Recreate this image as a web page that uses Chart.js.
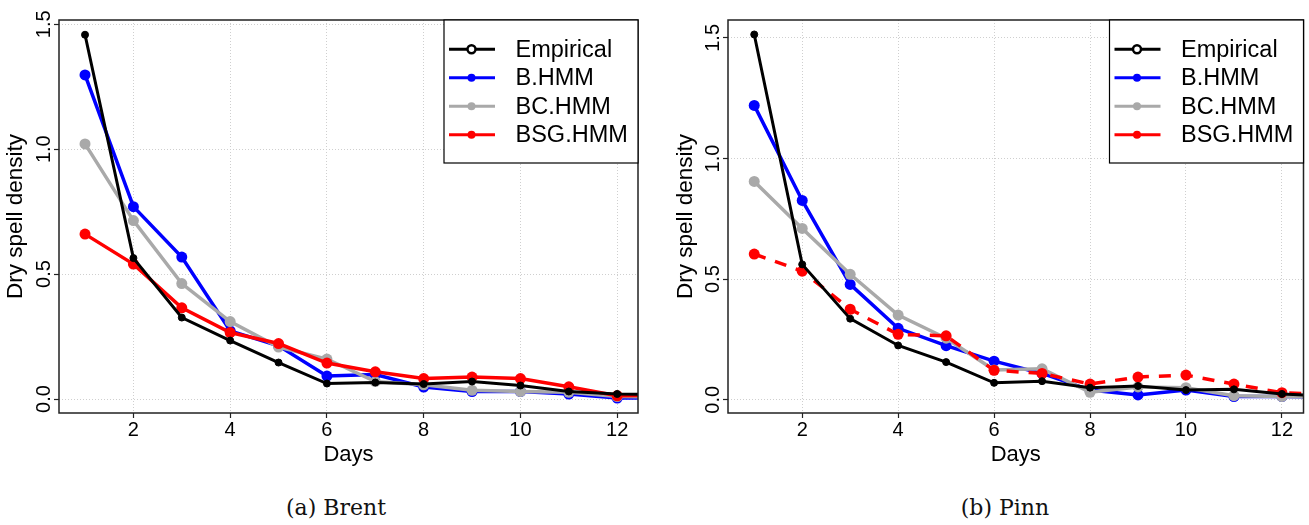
<!DOCTYPE html>
<html><head><meta charset="utf-8">
<script src="https://cdn.jsdelivr.net/npm/chart.js@4.4.1/dist/chart.umd.min.js"></script>
<style>
html,body{margin:0;padding:0;background:#fff;}
#wrap{position:relative;width:1309px;height:525px;overflow:hidden;background:#fff;}
canvas{position:absolute;top:0;}
.cap{position:absolute;top:495px;font-family:"DejaVu Serif",serif;font-size:22px;line-height:26px;color:#111;white-space:nowrap;transform:translateX(-50%);}
</style></head><body>
<div id="wrap">
<canvas id="cA" width="660" height="470" style="left:0;width:660px;height:470px"></canvas>
<canvas id="cB" width="649" height="470" style="left:660px;width:649px;height:470px"></canvas>
<div class="cap" style="left:336px">(a) Brent</div>
<div class="cap" style="left:1005px">(b) Pinn</div>
</div>
<script>
// ---- data ----
const days = [1,2,3,4,5,6,7,8,9,10,11,12,13];
const xTicks = [2,4,6,8,10,12];
const yTicks = [0,0.5,1.0,1.5];
const yTickLabels = ['0.0','0.5','1.0','1.5'];
const seriesNames = ['Empirical','B.HMM','BC.HMM','BSG.HMM'];
const xTitle = 'Days';
const yTitle = 'Dry spell density';

const brentEmpirical = [1.458,0.564,0.326,0.234,0.146,0.062,0.066,0.060,0.070,0.054,0.030,0.020,0.018];
const brentB        = [1.297,0.770,0.568,0.273,0.213,0.092,0.098,0.048,0.030,0.030,0.020,0.004,0.003];
const brentBC       = [1.021,0.714,0.462,0.310,0.208,0.160,0.070,0.057,0.035,0.030,0.027,0.010,0.008];
const brentBSG      = [0.660,0.540,0.365,0.266,0.222,0.144,0.109,0.082,0.088,0.082,0.049,0.013,0.015];

const pinnEmpirical = [1.514,0.561,0.336,0.225,0.156,0.070,0.077,0.050,0.057,0.040,0.043,0.024,0.015];
const pinnB         = [1.220,0.826,0.478,0.296,0.224,0.160,0.109,0.040,0.020,0.040,0.013,0.013,0.012];
const pinnBC        = [0.905,0.710,0.520,0.351,0.255,0.123,0.128,0.031,0.053,0.050,0.017,0.013,0.012];
const pinnBSG       = [0.604,0.533,0.375,0.271,0.265,0.122,0.109,0.065,0.094,0.102,0.065,0.029,0.020];

// ---- styles ----
const FONT = '"Liberation Sans", Arial, sans-serif';
const colors = ['#000000','#0000FF','#A9A9A9','#FF0000'];

function toXY(vals){ return days.map((d,i)=>({x:d,y:vals[i]})); }

const framePlugin = {
  id:'frame',
  afterDatasetsDraw(chart){
    const {ctx, chartArea:a} = chart;
    ctx.save();
    ctx.strokeStyle='#222'; ctx.lineWidth=1.5;
    ctx.strokeRect(a.left, a.top, a.right-a.left, a.bottom-a.top);
    ctx.restore();
  }
};
const yLabelPlugin = {
  id:'ylabels',
  afterDraw(chart){
    const {ctx, chartArea:a} = chart;
    const ys = chart.scales.y;
    ctx.save();
    ctx.fillStyle='#000';
    ctx.font = '20px ' + FONT;
    ctx.textAlign='center'; ctx.textBaseline='alphabetic';
    yTicks.forEach((v,i)=>{
      const py = ys.getPixelForValue(v);
      ctx.save();
      ctx.translate(a.left-9, py);
      ctx.rotate(-Math.PI/2);
      ctx.fillText(yTickLabels[i], 0, 0);
      ctx.restore();
    });
    ctx.restore();
  }
};
const legendPlugin = {
  id:'rlegend',
  afterDraw(chart){
    const {ctx, chartArea:a} = chart;
    const w=194, h=143;
    const x0=a.right-w, y0=a.top;
    ctx.save();
    ctx.fillStyle='#fff'; ctx.fillRect(x0,y0,w,h);
    ctx.strokeStyle='#000'; ctx.lineWidth=1.2; ctx.strokeRect(x0,y0,w,h);
    chart.data.datasets.forEach((ds,i)=>{
      const cy = y0 + 29.3 + i*28.5;
      ctx.strokeStyle=ds.borderColor; ctx.lineWidth=3; ctx.setLineDash([]);
      ctx.beginPath(); ctx.moveTo(x0+5,cy); ctx.lineTo(x0+51,cy); ctx.stroke();
      ctx.beginPath(); ctx.arc(x0+27.5,cy,4,0,Math.PI*2);
      if(i===0){ ctx.fillStyle='#fff'; ctx.fill(); ctx.lineWidth=2.5; ctx.stroke(); }
      else { ctx.fillStyle=ds.borderColor; ctx.fill(); }
      ctx.fillStyle='#000'; ctx.font='23.5px '+FONT; ctx.textAlign='left'; ctx.textBaseline='middle';
      ctx.fillText(ds.label, x0+71.5, cy+1);
    });
    ctx.restore();
  }
};

function makeChart(id, series, yMin, yMax, xMin, xMax, yW, padRight, titlePad, dashRed){
  const datasets = series.map((vals,i)=>({
    label: seriesNames[i],
    data: toXY(vals),
    borderColor: colors[i],
    backgroundColor: colors[i],
    borderWidth: i===0 ? 3 : 3.5,
    pointRadius: i===0 ? 3.5 : 5.5,
    pointBorderWidth: i===0 ? 1 : 0,
    pointBorderColor: colors[i],
    pointBackgroundColor: colors[i],
    borderDash: (i===3 && dashRed) ? [12,10] : [],
    tension: 0,
    clip: 0,
    order: i===0 ? 0 : 4-i
  }));
  return new Chart(document.getElementById(id), {
    type:'line',
    data:{datasets},
    plugins:[framePlugin, yLabelPlugin, legendPlugin],
    options:{
      responsive:false, animation:false, devicePixelRatio:1,
      layout:{padding:{top:20,right:padRight,left:0,bottom:0}},
      plugins:{legend:{display:false}, tooltip:{enabled:false}},
      scales:{
        x:{
          type:'linear', min:xMin, max:xMax,
          afterBuildTicks(s){ s.ticks = xTicks.map(v=>({value:v})); },
          afterFit(s){ s.height = 57; },
          ticks:{autoSkip:false, maxRotation:0, minRotation:0, padding:0, color:'#000',
                 font:{size:20, family:FONT}, callback:v=>String(v)},
          grid:{color:'#cfcfcf', lineWidth:1, drawTicks:true, tickLength:5, tickColor:'#222', tickWidth:1.2},
          border:{display:false, dash:[1,2]},
          title:{display:true, text:xTitle, color:'#000', font:{size:22, family:FONT}, padding:{top:0,bottom:2}}
        },
        y:{
          type:'linear', min:yMin, max:yMax,
          afterBuildTicks(s){ s.ticks = yTicks.map(v=>({value:v})); },
          afterFit(s){ s.width = yW; },
          ticks:{display:false},
          grid:{color:'#cfcfcf', lineWidth:1, drawTicks:true, tickLength:5, tickColor:'#222', tickWidth:1.2},
          border:{display:false, dash:[1,2]},
          title:{display:true, text:yTitle, color:'#000', font:{size:22.5, family:FONT}, padding:{top:titlePad,bottom:0}}
        }
      }
    }
  });
}

makeChart('cA', [brentEmpirical, brentB, brentBC, brentBSG], -0.056, 1.517, 0.462, 12.43, 59, 22, 2, false);
makeChart('cB', [pinnEmpirical, pinnB, pinnBC, pinnBSG], -0.055, 1.574, 0.453, 12.45, 68, 1, 12, true);
</script>
</body></html>
